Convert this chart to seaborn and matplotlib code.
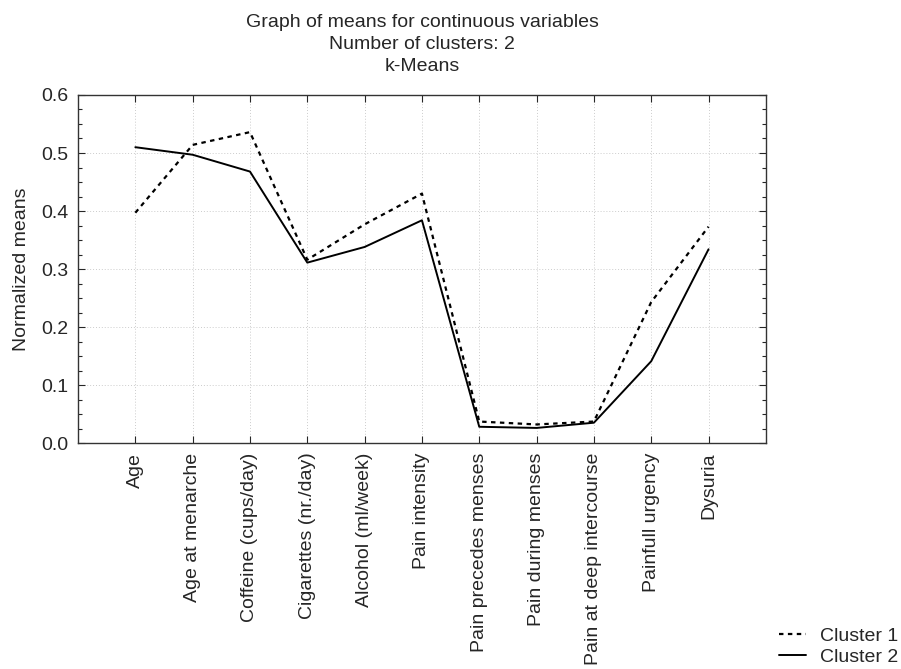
import matplotlib
matplotlib.use("Agg")
import matplotlib.pyplot as plt
from matplotlib.ticker import MultipleLocator, FixedLocator, FormatStrFormatter
import seaborn as sns
import pandas as pd
import numpy as np

categories = ["Age", "Age at menarche", "Coffeine (cups/day)", "Cigarettes (nr./day)",
              "Alcohol (ml/week)", "Pain intensity", "Pain precedes menses",
              "Pain during menses", "Pain at deep intercourse", "Painfull urgency", "Dysuria"]
cluster1 = [0.397, 0.514, 0.536, 0.316, 0.377, 0.430, 0.037, 0.032, 0.037, 0.243, 0.373]
cluster2 = [0.510, 0.497, 0.468, 0.311, 0.338, 0.384, 0.028, 0.026, 0.035, 0.141, 0.334]
series_names = ["Cluster 1", "Cluster 2"]

sns.set_style("ticks")
plt.rcParams["font.family"] = ["Liberation Sans", "DejaVu Sans"]

pos = np.arange(len(categories))
df = pd.DataFrame({
    "pos": np.concatenate([pos, pos]),
    "value": cluster1 + cluster2,
    "cluster": [series_names[0]] * len(pos) + [series_names[1]] * len(pos),
})

fig = plt.figure(figsize=(9.01, 6.69), dpi=100)
ax = fig.add_axes([0.0866, 0.3378, 0.7634, 0.5202])

sns.lineplot(data=df[df.cluster == series_names[0]], x="pos", y="value", ax=ax,
             color="black", linestyle=(0, (2, 2)), linewidth=1.6, label=series_names[0], legend=False)
sns.lineplot(data=df[df.cluster == series_names[1]], x="pos", y="value", ax=ax,
             color="black", linestyle="-", linewidth=1.4, label=series_names[1], legend=False)

FS = 14
ax.set_xlim(-1, len(categories))
ax.set_ylim(0, 0.6)
ax.xaxis.set_major_locator(FixedLocator(pos))
ax.set_xticklabels(categories, rotation=90, fontsize=FS)
ax.yaxis.set_major_locator(MultipleLocator(0.1))
ax.yaxis.set_minor_locator(MultipleLocator(0.025))
ax.yaxis.set_major_formatter(FormatStrFormatter("%.1f"))
ax.tick_params(axis="y", which="major", labelsize=FS)
ax.tick_params(axis="both", which="both", direction="in", top=True, right=True)
ax.tick_params(axis="both", which="major", length=5, width=0.8, pad=7)
ax.tick_params(axis="y", which="minor", length=3, width=0.8)
ax.tick_params(axis="x", which="minor", top=False, bottom=False)
ax.grid(True, which="major", color="#cccccc", linestyle=(0, (1, 2)), linewidth=0.7)
for s in ax.spines.values():
    s.set_color("#333333")
    s.set_linewidth(1.0)

ax.set_xlabel("")
ax.set_ylabel("Normalized means", fontsize=FS, labelpad=8)
ax.set_title("Graph of means for continuous variables\nNumber of clusters: 2\nk-Means",
             fontsize=FS, linespacing=1.4, pad=17)

handles, labels = ax.get_legend_handles_labels()
fig.legend(handles, labels, loc="lower right", bbox_to_anchor=(1.016, -0.022), frameon=False,
           fontsize=FS, handlelength=1.4, handletextpad=0.7, labelspacing=0.2)

fig.savefig("out.png", dpi=100)
